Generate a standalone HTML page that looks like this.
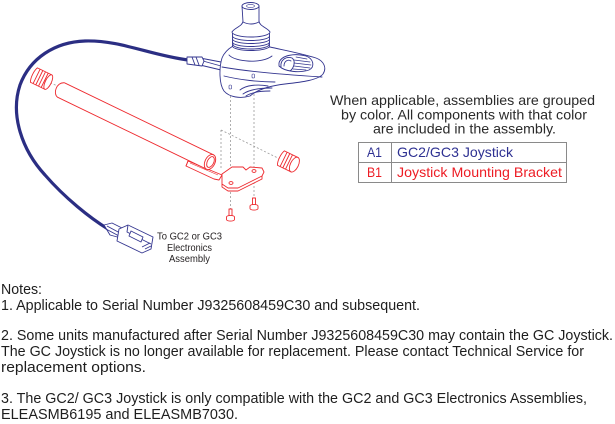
<!DOCTYPE html>
<html>
<head>
<meta charset="utf-8">
<style>
  html, body { margin:0; padding:0; background:#fff; }
  body { width:615px; height:424px; overflow:hidden; }
  svg { display:block; }
  text { font-family: "Liberation Sans", Arial, sans-serif; }
</style>
</head>
<body>
<svg width="615" height="424" viewBox="0 0 615 424" xmlns="http://www.w3.org/2000/svg">
  <rect width="615" height="424" fill="#fff"/>

  <!-- ===== dashed guide lines ===== -->
  <g stroke="#9a9a9a" stroke-width="0.8" stroke-dasharray="2,2" fill="none">
    <line x1="50" y1="83" x2="58" y2="86"/>
    <line x1="221" y1="130" x2="221" y2="168"/>
    <line x1="221" y1="130" x2="282" y2="160"/>
    <line x1="230.5" y1="88" x2="230.5" y2="210"/>
    <line x1="254" y1="78" x2="254" y2="199"/>
  </g>

  <!-- ===== Cable ===== -->
  <path d="M188,60 C150,55 120,40 85,41 C55,42 30,58 20,85 C10,115 22,150 45,175 C65,198 90,218 108,229"
        fill="none" stroke="#2b2e83" stroke-width="3.2" stroke-linecap="round"/>

  <!-- connector -->
  <g stroke="#33358f" stroke-width="0.9" fill="#fff" stroke-linejoin="round">
    <path d="M104,225 L112,223 L124,229 L121,238 L110,235 Z"/>
    <line x1="107" y1="226" x2="120" y2="233"/>
    <line x1="106" y1="229" x2="119" y2="236"/>
    <path d="M119,229 L128,225 L153,237 L151,249 L142,253 L117,241 Z"/>
    <path d="M128,225 L127,232 L151,244"/>
    <path d="M131,231 L143,237 L141,242 L129,236 Z"/>
    <line x1="142" y1="247" x2="150" y2="243"/>
    <line x1="145" y1="249" x2="151" y2="246"/>
  </g>

  <!-- ===== Joystick ===== -->
  <g stroke="#33358f" stroke-width="0.9" fill="#fff" stroke-linejoin="round" stroke-linecap="round">
    <!-- thin cable into body -->
    <path d="M200,58 L221,62 L221,70 L200,65 Z"/>
    <line x1="203" y1="61" x2="221" y2="66"/>
    <!-- ferrule -->
    <path d="M187,57 L202,57 L204,61 L202,66 L187,64 Z"/>
    <line x1="192" y1="57" x2="195" y2="65"/>
    <line x1="196" y1="57" x2="199" y2="65"/>

    <!-- body -->
    <path d="M222,58 C219,68 219,84 224,91 C229,97 240,99 250,96 C257,90 268,86 285,84 C303,82 318,80 323,74 C327,68 324,61 316,58 C300,53 283,50 270,47 C262,50 240,50 233,46 C228,49 224,53 222,58 Z"/>
    <path d="M222,67 C250,72 290,75 322,77" fill="none"/>
    <path d="M224,76 C240,80 260,82 275,82" fill="none"/>
    <path d="M229,55 C235,62 262,64 272,56" fill="none"/>
    <!-- lower grip -->
    <path d="M240,90 C246,85 258,84 268,86" fill="none"/>
    <path d="M243,94 C250,89 262,88 272,88" fill="none"/>
    <path d="M246,96 C252,92 262,91 270,91" fill="none"/>
    <!-- dial -->
    <path d="M279,63 C281,55 295,53 306,56 C314,59 315,67 309,70 C300,73 285,72 279,66 Z"/>
    <path d="M281,67 C280,60 286,56 292,58 C296,61 294,68 290,71" fill="none"/>
    <path d="M284,66 C284,61 288,59 291,61" fill="none"/>
    <g fill="none" stroke-width="0.7">
      <line x1="294" y1="60" x2="310" y2="62"/>
      <line x1="294" y1="63" x2="311" y2="65"/>
      <line x1="294" y1="66" x2="310" y2="68"/>
      <line x1="293" y1="69" x2="306" y2="70"/>
      <line x1="296" y1="57" x2="307" y2="59"/>
    </g>
    <!-- holes -->
    <rect x="229" y="85" width="2.5" height="4" rx="1" fill="none" stroke-width="0.6"/>
    <rect x="252" y="74" width="2.5" height="4" rx="1" fill="none" stroke-width="0.6"/>

    <!-- boot -->
    <path d="M232.5,32 L232.5,46 A18.5,4.5 0 0 0 269.5,46 L269.5,32 Z"/>
    <path d="M232.5,36 A18.5,4.5 0 0 0 269.5,36" fill="none"/>
    <path d="M232.5,39 A18.5,4.5 0 0 0 269.5,39" fill="none"/>
    <path d="M232.5,42 A18.5,4.5 0 0 0 269.5,42" fill="none"/>
    <path d="M233,44.5 A18,4.5 0 0 0 269,44.5" fill="none"/>
    <path d="M243,21 C243,26 234,28 232,32 A19,5 0 0 0 270,32 C268,28 259,26 259,21 Z"/>
    <!-- knob -->
    <path d="M242,6 L243,22 Q251,26 259,22 L259,6 Z"/>
    <ellipse cx="250.5" cy="6" rx="8.5" ry="3.5"/>
    <ellipse cx="250.5" cy="6" rx="4" ry="1.6" fill="none" stroke-width="0.6"/>
  </g>

  <!-- ===== Red parts ===== -->
  <g stroke="#ee2a2f" stroke-width="0.9" fill="#fff" stroke-linejoin="round">
    <!-- bracket flange -->
    <path d="M188,161 L222,175 L219,180 L214,179 L186,166 Z"/>
    <line x1="188" y1="161" x2="186" y2="166"/>
    <line x1="190" y1="163" x2="218" y2="175" stroke-width="0.6"/>
    <!-- tube -->
    <path d="M64.5,82.8 L213.5,154.8 L206.5,169.2 L57.5,97.2 C53,94 56,82 64.5,82.8 Z"/>
    <ellipse cx="210" cy="162" rx="5" ry="8" transform="rotate(26 210 162)"/>
    <ellipse cx="210.5" cy="162" rx="3.2" ry="5.8" transform="rotate(26 210.5 162)"/>
    <!-- plate -->
    <path d="M222,184 L222,187 L228,191 L238,191 L262,179 L262,176" fill="#fff"/>
    <path d="M222,174 L232,167 L243,167 L246,170 L250,167 L262,168 L264,172 L262,176 L238,188 L228,188 L222,184 Z"/>
    <ellipse cx="231" cy="183" rx="2" ry="1.4"/>
    <ellipse cx="254" cy="171" rx="2" ry="1.4"/>

    <!-- left cap -->
    <g transform="rotate(26 42 79)">
      <path d="M33,71 L49,71 L49,87 L33,87 C31,83 31,75 33,71 Z"/>
      <line x1="36" y1="71" x2="36" y2="87"/>
      <line x1="39" y1="71" x2="39" y2="87"/>
      <line x1="42" y1="71" x2="42" y2="87"/>
      <line x1="45" y1="71" x2="45" y2="87"/>
      <ellipse cx="49" cy="79" rx="3" ry="8"/>
    </g>
    <!-- right cap -->
    <g transform="rotate(26 289 162)">
      <path d="M280,154 L295,154 L295,170 L280,170 C278,166 278,158 280,154 Z"/>
      <line x1="283" y1="154" x2="283" y2="170"/>
      <line x1="286" y1="154" x2="286" y2="170"/>
      <line x1="289" y1="154" x2="289" y2="170"/>
      <ellipse cx="295" cy="162" rx="4" ry="8"/>
    </g>

    <!-- screws -->
    <path d="M229,209 L232,209 L232,216 L229,216 Z"/>
    <path d="M226.5,217 A4,1.6 0 0 1 234.5,217 L234.5,219.5 A4,1.6 0 0 1 226.5,219.5 Z"/>
    <path d="M252.5,198 L255.5,198 L255.5,205 L252.5,205 Z"/>
    <path d="M250,206 A4,1.6 0 0 1 258,206 L258,208.5 A4,1.6 0 0 1 250,208.5 Z"/>
  </g>

  <!-- connector label -->
  <g fill="#231f20" font-size="10.5">
    <text x="157" y="239.5" textLength="65" lengthAdjust="spacingAndGlyphs">To GC2 or GC3</text>
    <text x="167" y="251" textLength="45" lengthAdjust="spacingAndGlyphs">Electronics</text>
    <text x="169" y="262" textLength="41" lengthAdjust="spacingAndGlyphs">Assembly</text>
  </g>

  <!-- ===== Legend ===== -->
  <g fill="#2a2a2a" font-size="14">
    <text x="330" y="105" textLength="265" lengthAdjust="spacingAndGlyphs">When applicable, assemblies are grouped</text>
    <text x="341" y="119.5" textLength="246" lengthAdjust="spacingAndGlyphs">by color. All components with that color</text>
    <text x="373" y="133.5" textLength="183" lengthAdjust="spacingAndGlyphs">are included in the assembly.</text>
  </g>
  <g stroke="#8a8a8a" stroke-width="1" fill="none">
    <rect x="358.5" y="142.5" width="208" height="40"/>
    <line x1="358.5" y1="162.5" x2="566.5" y2="162.5"/>
    <line x1="391.5" y1="142.5" x2="391.5" y2="182.5"/>
  </g>
  <g font-size="14">
    <text x="367" y="157" fill="#2e3192" textLength="15" lengthAdjust="spacingAndGlyphs">A1</text>
    <text x="397" y="157" fill="#2e3192" textLength="116" lengthAdjust="spacingAndGlyphs">GC2/GC3 Joystick</text>
    <text x="367" y="177" fill="#ed1c24" textLength="15" lengthAdjust="spacingAndGlyphs">B1</text>
    <text x="397" y="177" fill="#ed1c24" textLength="165" lengthAdjust="spacingAndGlyphs">Joystick Mounting Bracket</text>
  </g>

  <!-- ===== Notes ===== -->
  <g fill="#1e1e1e" font-size="14.3">
    <text x="1" y="294" textLength="41" lengthAdjust="spacingAndGlyphs">Notes:</text>
    <text x="1" y="310" textLength="419" lengthAdjust="spacingAndGlyphs">1. Applicable to Serial Number J9325608459C30 and subsequent.</text>
    <text x="1" y="340" textLength="612" lengthAdjust="spacingAndGlyphs">2. Some units manufactured after Serial Number J9325608459C30 may contain the GC Joystick.</text>
    <text x="1" y="356" textLength="583" lengthAdjust="spacingAndGlyphs">The GC Joystick is no longer available for replacement. Please contact Technical Service for</text>
    <text x="1" y="372" textLength="145" lengthAdjust="spacingAndGlyphs">replacement options.</text>
    <text x="1" y="403" textLength="586" lengthAdjust="spacingAndGlyphs">3. The GC2/ GC3 Joystick is only compatible with the GC2 and GC3 Electronics Assemblies,</text>
    <text x="1" y="419" textLength="237" lengthAdjust="spacingAndGlyphs">ELEASMB6195 and ELEASMB7030.</text>
  </g>
</svg>
</body>
</html>
